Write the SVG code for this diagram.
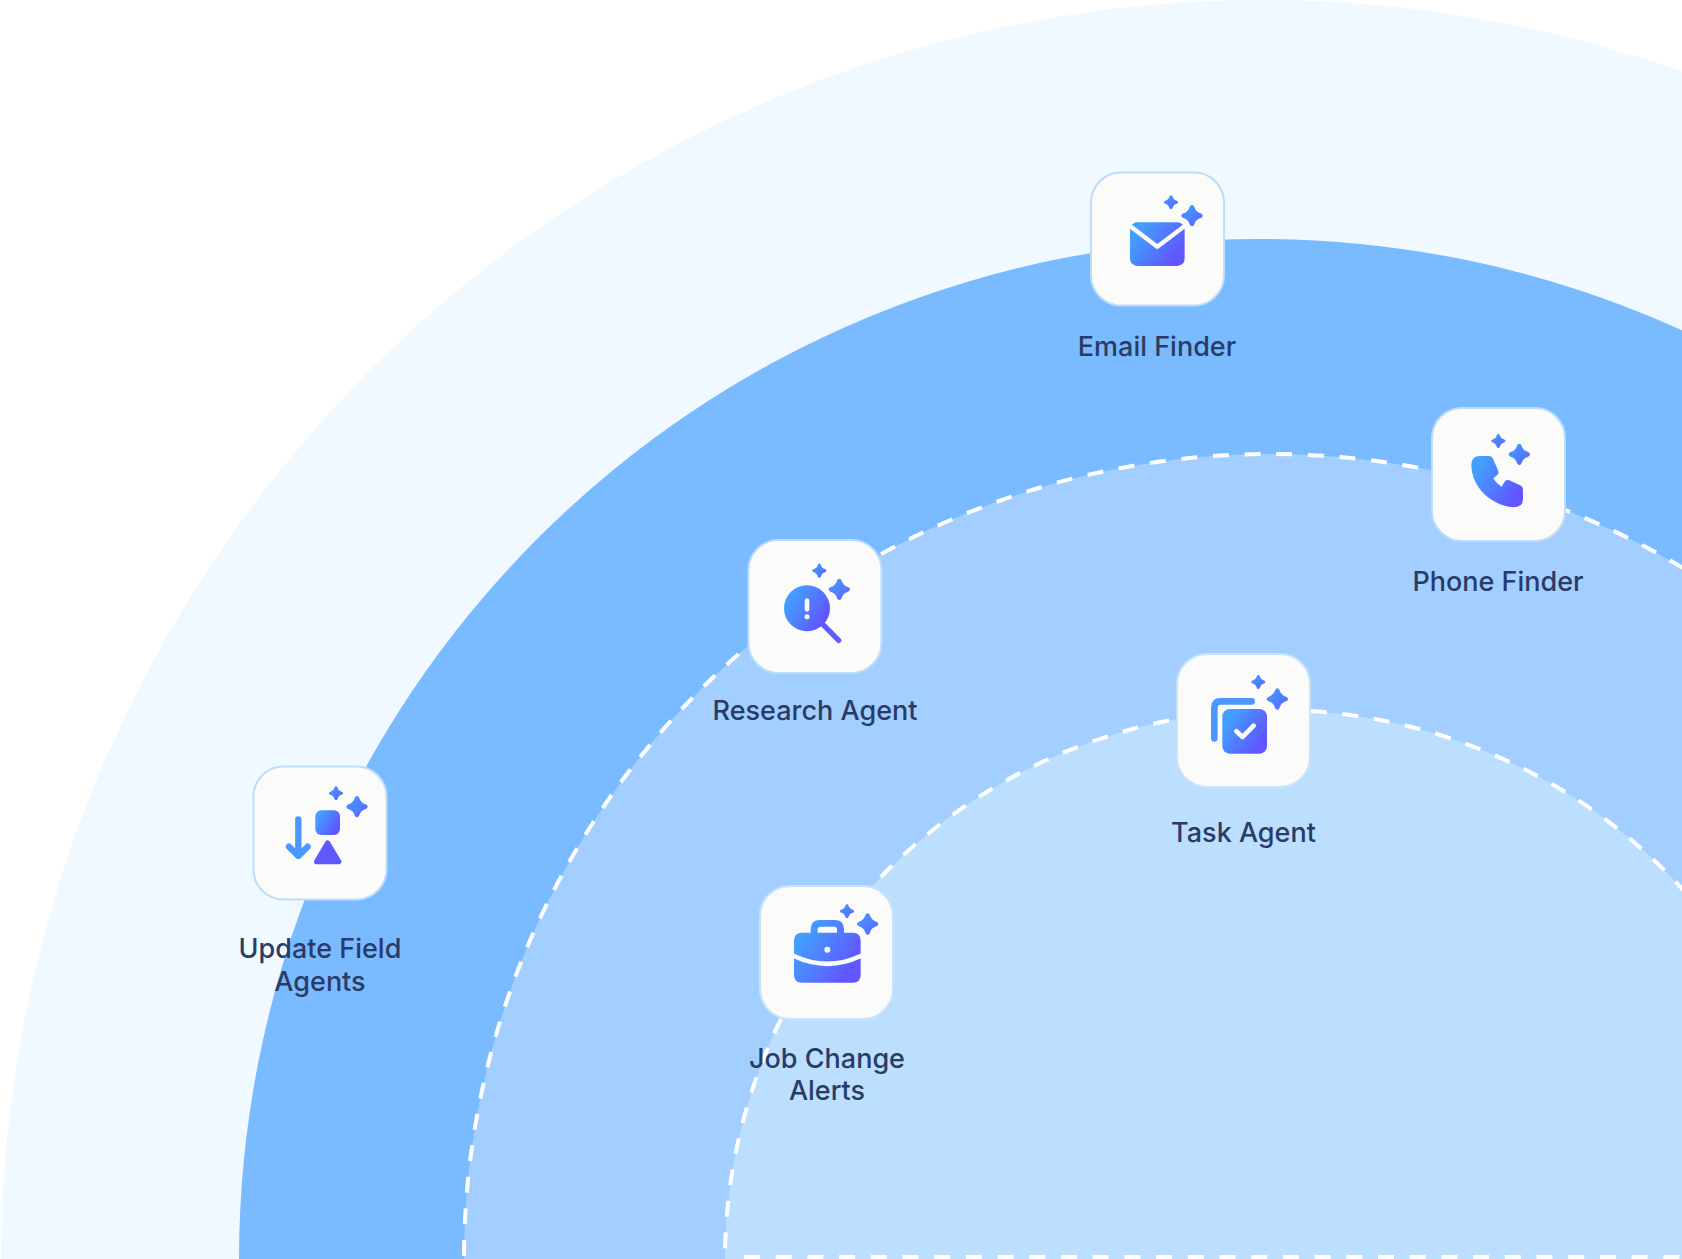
<svg xmlns="http://www.w3.org/2000/svg" width="1682" height="1259" viewBox="0 0 1682 1259">
<style>
.card{fill:#FBFBFA;stroke:#BEDDFB;stroke-width:2}
.lbl{font-family:"Inter","Liberation Sans",sans-serif;font-size:27px;font-weight:500;fill:#2A3B66;text-anchor:middle}
.dash{fill:none;stroke:#fff;stroke-width:4;stroke-dasharray:16 15.7}
.g{fill:url(#ig)}
.sp{fill:url(#sg)}
.w{fill:none;stroke:#FBFBFA;stroke-linecap:round;stroke-linejoin:round}
</style>
<defs>
<linearGradient id="ig" x1="0" y1="0.2" x2="1" y2="0.8"><stop offset="0.12" stop-color="#429FFF"/><stop offset="0.88" stop-color="#6156FF"/></linearGradient>
<linearGradient id="sg" x1="0" y1="0" x2="1" y2="1"><stop offset="0" stop-color="#429FFF"/><stop offset="1" stop-color="#5B63FF"/></linearGradient>
<path id="big" d="M0-32Q5-32 7-26C10-16 16-10 26-7Q32-5 32 0T26 7C16 10 10 16 7 26Q5 32 0 32T-7 26C-10 16-16 10-26 7Q-32 5-32 0T-26-7C-16-10-10-16-7-26Q-5-32 0-32Z"/>
<path id="small" transform="scale(.66)" d="M0-32Q5-32 7-26C10-16 16-10 26-7Q32-5 32 0T26 7C16 10 10 16 7 26Q5 32 0 32T-7 26C-10 16-16 10-26 7Q-32 5-32 0T-26-7C-16-10-10-16-7-26Q-5-32 0-32Z"/>
</defs>
<rect width="1682" height="1259" fill="#fff"/>
<g id="rings">
<circle cx="1263" cy="1262" r="1262" fill="#F0F9FF"/>
<circle cx="1260" cy="1260" r="1021" fill="#7ABAFF"/>
<circle cx="1270" cy="1260" r="806" fill="#A2CFFF"/>
<circle cx="1276" cy="1261" r="551" fill="#BCDEFF"/>
</g>
<g id="connectors">
<circle class="dash" cx="1270" cy="1260" r="806"/>
<circle class="dash" cx="1276" cy="1261" r="551"/>
<path class="dash" d="M744 1257H1682"/>
</g>
<g id="email-finder">
<rect class="card" x="1091" y="172.5" width="133" height="133" rx="30"/>
<g transform="translate(1070 150) scale(.3333)">
<use href="#small" class="sp" x="303" y="157"/><use href="#big" class="sp" x="366" y="197"/>
<rect class="g" x="180" y="217" width="164" height="131" rx="22"/>
<path class="w" stroke-width="13" d="M180 228L262 290L344 228" stroke-linecap="butt"/>
</g>
<text class="lbl" x="1157" y="356">Email Finder</text>
</g>
<g id="phone-finder">
<rect class="card" x="1432" y="408" width="133" height="133" rx="30"/>
<g transform="translate(1400 390) scale(.3333)">
<use href="#small" class="sp" x="295" y="153"/><use href="#big" class="sp" x="358" y="193"/>
<path class="g" d="M240 198H268Q276 198 279 206L295 243Q298 250 292 255L280 265Q290 282 305 290L315 274Q320 268 328 271L360 286Q369 290 369 300V328Q369 352 340 352C270 345 215 290 214 225Q214 198 240 198Z"/>
</g>
<text class="lbl" x="1498" y="591">Phone Finder</text>
</g>
<g id="research-agent">
<rect class="card" x="748.5" y="540" width="133" height="133" rx="30"/>
<g transform="translate(720 520) scale(.3333)">
<use href="#small" class="sp" x="298" y="152"/><use href="#big" class="sp" x="358" y="208"/>
<circle class="g" cx="261" cy="265" r="69"/>
<path d="M310 315L356 361" stroke="#5F5BFF" stroke-width="16" stroke-linecap="round"/>
<path class="w" stroke-width="14" d="M261 242V268"/>
<circle cx="261" cy="290" r="7.5" fill="#FBFBFA"/>
</g>
<text class="lbl" x="815" y="720">Research Agent</text>
</g>
<g id="task-agent">
<rect class="card" x="1177" y="654" width="133" height="133" rx="30" style="stroke:#C8E2FC"/>
<g transform="translate(1150 640) scale(.3333)">
<use href="#small" class="sp" x="325" y="126"/><use href="#big" class="sp" x="382" y="177"/>
<path d="M305 184H212Q193 184 193 203V295" fill="none" stroke="#4A98FF" stroke-width="20" stroke-linecap="round"/>
<rect class="g" x="217" y="207" width="134" height="134" rx="22"/>
<path class="w" stroke-width="14" d="M259 274L278 291L311 257"/>
</g>
<text class="lbl" x="1243.5" y="842">Task Agent</text>
</g>
<g id="update-field-agents">
<rect class="card" x="253.5" y="766.5" width="133" height="133" rx="30"/>
<g transform="translate(225 750) scale(.3333)">
<use href="#small" class="sp" x="333" y="130"/><use href="#big" class="sp" x="396" y="170"/>
<path d="M220 208V316M192 290L220 318L248 290" fill="none" stroke="#4A98FF" stroke-width="19" stroke-linecap="round" stroke-linejoin="round"/>
<rect class="g" x="271" y="181" width="74" height="74" rx="18"/>
<path d="M308 279L341 335H275Z" fill="#5E58FF" stroke="#5E58FF" stroke-width="16" stroke-linejoin="round"/>
</g>
<text class="lbl" x="320" y="958">Update Field</text>
<text class="lbl" x="320" y="991">Agents</text>
</g>
<g id="job-change-alerts">
<rect class="card" x="760" y="886" width="133" height="133" rx="30" style="stroke:#C8E2FC"/>
<g transform="translate(735 870) scale(.3333)">
<use href="#small" class="sp" x="336" y="124"/><use href="#big" class="sp" x="398" y="162"/>
<path class="g" fill-rule="evenodd" d="M201 188H227V178Q227 150 255 150H299Q327 150 327 178V188H353Q377 188 377 212V314Q377 338 353 338H201Q177 338 177 314V212Q177 188 201 188ZM248 188H306V178Q306 170 298 170H256Q248 170 248 178Z"/>
<path class="w" stroke-width="14" stroke-linecap="butt" d="M177 258Q277 305 377 258"/>
<circle cx="277" cy="239" r="9" fill="#FBFBFA"/>
</g>
<text class="lbl" x="827" y="1068">Job Change</text>
<text class="lbl" x="827" y="1100">Alerts</text>
</g>
</svg>
